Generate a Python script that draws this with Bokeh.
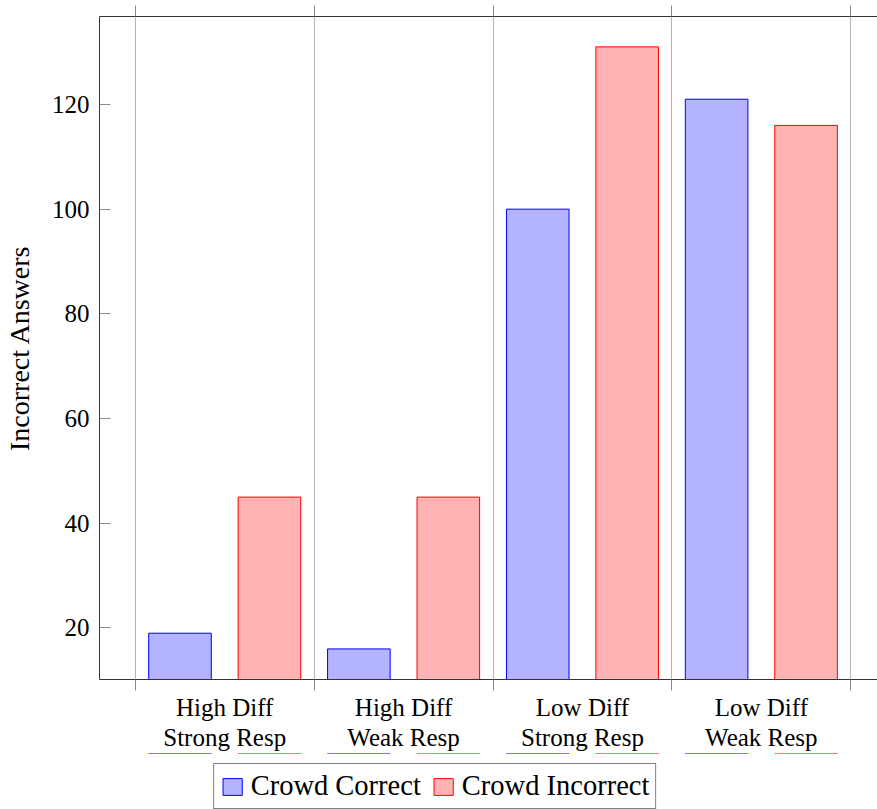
from bokeh.plotting import figure
from bokeh.models import (Range1d, FixedTicker, LinearAxis, Grid, Legend, LegendItem,
                          ColumnDataSource)
from bokeh.layouts import column
from bokeh.embed import file_html
from bokeh.resources import INLINE

# ---- data ----
cat_line1 = ["High Diff", "High Diff", "Low Diff", "Low Diff"]
cat_line2 = ["Strong Resp", "Weak Resp", "Strong Resp", "Weak Resp"]
crowd_correct = [19, 16, 100, 121]
crowd_incorrect = [45, 45, 131, 116]
y_ticks = [20, 40, 60, 80, 100, 120]
series_names = ["Crowd Correct", "Crowd Incorrect"]

FONT = "Liberation Serif"
BLUE_FILL, BLUE_LINE = "#b3b3ff", "#0000ff"
RED_FILL, RED_LINE = "#ffb3b3", "#ff0000"
idx = list(range(len(cat_line1)))
seps = [i - 0.5 for i in range(len(cat_line1) + 1)]

src = ColumnDataSource(dict(
    xc=[i - 0.25 for i in idx], xi=[i + 0.25 for i in idx],
    correct=crowd_correct, incorrect=crowd_incorrect))

p = figure(frame_width=779, frame_height=663, output_backend="svg",
           toolbar_location=None, x_range=Range1d(-0.7, 3.655),
           y_range=Range1d(10.16, 136.8), min_border_left=90, min_border_right=0,
           min_border_top=16, min_border_bottom=0, x_axis_location=None,
           y_axis_location=None)
p.outline_line_color = None
p.xgrid.visible = False
p.ygrid.visible = False
p.background_fill_color = "white"
p.border_fill_color = "white"

# grid at category separators
p.add_layout(Grid(dimension=0, ticker=FixedTicker(ticks=seps),
                  grid_line_color="#b4b4b4", grid_line_width=1))

p.vbar(x="xc", top="correct", bottom=0, width=0.35, source=src,
       fill_color=BLUE_FILL, line_color=BLUE_LINE, line_width=1)
p.vbar(x="xi", top="incorrect", bottom=0, width=0.35, source=src,
       fill_color=RED_FILL, line_color=RED_LINE, line_width=1)

AXC = "#333333"
TICKC = "#8a8a8a"

# bottom axis, first label line
xb = LinearAxis(ticker=FixedTicker(ticks=idx, minor_ticks=seps))
xb.major_label_overrides = {i: c for i, c in zip(idx, cat_line1)}
xb.major_tick_in = 0
xb.major_tick_out = 0
xb.minor_tick_in = 0
xb.minor_tick_out = 11
xb.minor_tick_line_color = TICKC
xb.axis_line_color = AXC
xb.major_label_text_font = FONT
xb.major_label_text_font_size = "25px"
xb.major_label_text_color = "black"
xb.major_label_standoff = 3
p.add_layout(xb, "below")

# second label line
xb2 = LinearAxis(ticker=FixedTicker(ticks=idx, minor_ticks=[]))
xb2.major_label_overrides = {i: c for i, c in zip(idx, cat_line2)}
xb2.major_tick_in = 0
xb2.major_tick_out = 0
xb2.axis_line_color = None
xb2.major_label_text_font = FONT
xb2.major_label_text_font_size = "25px"
xb2.major_label_text_color = "black"
xb2.major_label_standoff = 0
p.add_layout(xb2, "below")

# top axis (ticks only)
xt = LinearAxis(ticker=FixedTicker(ticks=[], minor_ticks=seps))
xt.minor_tick_in = 0
xt.minor_tick_out = 11
xt.minor_tick_line_color = TICKC
xt.axis_line_color = AXC
xt.major_label_standoff = 0
p.add_layout(xt, "above")

# left axis
yl = LinearAxis(ticker=FixedTicker(ticks=y_ticks, minor_ticks=[]))
yl.major_tick_in = 11
yl.major_tick_out = 0
yl.major_tick_line_color = TICKC
yl.axis_line_color = AXC
yl.major_label_text_font = FONT
yl.major_label_text_font_size = "25px"
yl.major_label_text_color = "black"
yl.major_label_standoff = 10
yl.axis_label = "Incorrect Answers"
yl.axis_label_text_font = FONT
yl.axis_label_text_font_size = "28px"
yl.axis_label_text_font_style = "normal"
yl.axis_label_text_color = "black"
yl.axis_label_standoff = 14
p.add_layout(yl, "left")

# ---- legend strip below the chart (same frame alignment as the chart) ----
lf = figure(frame_width=779, frame_height=58, output_backend="svg",
            toolbar_location=None, min_border_left=90, min_border_right=0,
            min_border_top=0, min_border_bottom=0, x_axis_location=None,
            y_axis_location=None, x_range=Range1d(-0.7, 3.655),
            y_range=Range1d(-2, -1))
lf.outline_line_color = None
lf.xgrid.visible = False
lf.ygrid.visible = False
lf.background_fill_color = "white"
lf.border_fill_color = "white"
# same series, lying outside the strip's visible range: only their legend glyphs show
lc = lf.vbar(x="xc", top="correct", bottom=0, width=0.35, source=src,
             fill_color=BLUE_FILL, line_color=BLUE_LINE)
li = lf.vbar(x="xi", top="incorrect", bottom=0, width=0.35, source=src,
             fill_color=RED_FILL, line_color=RED_LINE)

legend = Legend(items=[LegendItem(label=series_names[0], renderers=[lc]),
                       LegendItem(label=series_names[1], renderers=[li])],
                orientation="horizontal", location="bottom_center")
legend.label_text_font = FONT
legend.label_text_font_size = "28.5px"
legend.label_text_color = "black"
legend.glyph_width = 24
legend.glyph_height = 21
legend.label_standoff = 7
legend.spacing = 10
legend.padding = 6
legend.border_line_color = "black"
legend.border_line_width = 1
legend.margin = 2
legend.background_fill_alpha = 1
lf.add_layout(legend, "center")

layout = column(p, lf, spacing=0)
open("out.html", "w").write(file_html(layout, INLINE))
